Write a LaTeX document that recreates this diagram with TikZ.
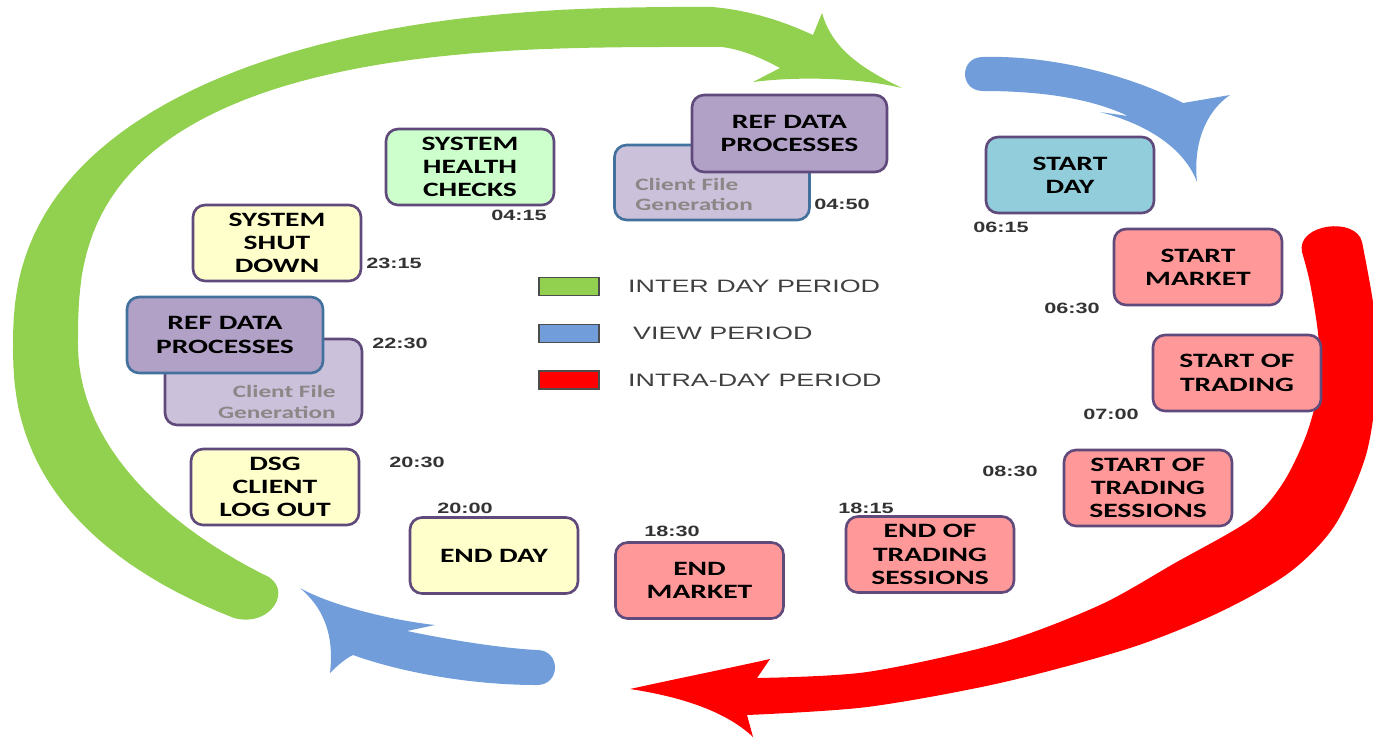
\documentclass[tikz,border=0pt]{standalone}
\usepackage{fontspec}
\usepackage{tikz}
\usetikzlibrary{positioning}

\newfontfamily\boxfont{Carlito}[FakeStretch=1.45]
\newfontfamily\clockfont{Liberation Sans}[FakeStretch=1.45]
\newfontfamily\legendfont{Liberation Sans}[FakeStretch=1.5]

\definecolor{interday}{RGB}{146,208,80}
\definecolor{viewper}{RGB}{113,158,218}
\definecolor{intraday}{RGB}{255,0,0}
\definecolor{edgepurple}{RGB}{96,74,123}
\definecolor{edgeblue}{RGB}{65,113,156}
\definecolor{healthfill}{RGB}{204,255,204}
\definecolor{reffill}{RGB}{178,161,199}
\definecolor{cffill}{RGB}{204,193,218}
\definecolor{dayfill}{RGB}{146,205,220}
\definecolor{mktfill}{RGB}{255,153,153}
\definecolor{endfill}{RGB}{255,255,204}
\definecolor{cftext}{RGB}{140,135,135}

\begin{document}
\begin{tikzpicture}[x=0.02cm, y=-0.02cm]
	\tikzstyle{stage} = [draw=edgepurple, line width=1.5pt, rounded corners=0.24cm, minimum width=3.36cm, minimum height=1.52cm, inner sep=0pt, align=center, text=black, font=\boxfont\bfseries\fontsize{11.6}{13.3}\selectfont]
	\tikzstyle{clock} = [inner sep=0pt, text=black!80, font=\clockfont\bfseries\fontsize{8.5}{10}\selectfont]
	\tikzstyle{cflabel} = [inner sep=0pt, text=cftext, font=\boxfont\bfseries\fontsize{9.9}{11.9}\selectfont]
	\tikzstyle{swatch} = [draw=black!70, line width=1pt, minimum width=1.2cm, minimum height=0.36cm, inner sep=0pt]
	\tikzstyle{legendtext} = [inner sep=0pt, text=black!75, font=\legendfont\fontsize{10.2}{12}\selectfont]

	\useasboundingbox (0,0) rectangle (1373,738);

	% period arrows
	\fill[interday] (265,575) .. controls (294,588) and (272,628) .. (234,618)
		-- plot[domain=129:271, samples=80] ({690+677*(cos(\x)<0?-1:1)*abs(cos(\x))^0.851}, {345+338*(sin(\x)<0?-1:1)*abs(sin(\x))^0.851})
		.. controls (750,10) and (785,22) .. (813,35)
		-- (822,13) .. controls (832,48) and (860,68) .. (902,88)
		.. controls (860,78) and (800,76) .. (753,82) -- (780,68)
		.. controls (765,60) and (745,50) .. (722,47)
		-- plot[domain=271:180.2, samples=50] ({690+612*(cos(\x)<0?-1:1)*abs(cos(\x))^0.725}, {345+298*(sin(\x)<0?-1:1)*abs(sin(\x))^0.725})
		-- plot[domain=180:134, samples=25] ({690+612*cos(\x)}, {345+320*sin(\x)}) -- cycle;

	\fill[viewper] (983,57) .. controls (1050,55) and (1130,75) .. (1183,103) -- (1230,95)
		.. controls (1205,112) and (1193,145) .. (1197,182)
		.. controls (1185,150) and (1150,125) .. (1100,112) -- (1128,116)
		.. controls (1090,98) and (1040,91) .. (983,91)
		.. controls (959,91) and (959,57) .. (983,57) -- cycle;

	\fill[intraday] (1302,252) .. controls (1296,224) and (1356,216) .. (1362,242)
		-- plot[smooth] coordinates {(1362,242) (1374,310) (1377,380) (1366,455) (1335,525) (1290,572) (1220,612) (1130,648) (1000,683) (867,707) (747,715)}
		-- (753,737) .. controls (730,715) and (690,698) .. (630,689)
		.. controls (680,678) and (730,668) .. (770,659) -- (757,678)
		-- plot[smooth] coordinates {(757,678) (867,672) (1000,643) (1100,605) (1175,563) (1250,520) (1283,483) (1307,433) (1320,380) (1318,333) (1310,283) (1302,252)} -- cycle;

	\fill[viewper] (537,650) .. controls (500,648) and (450,640) .. (407,631) -- (435,625)
		.. controls (390,620) and (330,605) .. (300,588)
		.. controls (320,605) and (335,630) .. (330,673)
		.. controls (338,665) and (345,659) .. (353,655)
		.. controls (400,672) and (470,685) .. (537,685)
		.. controls (561,685) and (561,650) .. (537,650) -- cycle;

	% stages
	\path
		node[stage, fill=healthfill] (1) at (470,167) {SYSTEM\\HEALTH\\CHECKS}
		node[stage, fill=cffill, draw=edgeblue, minimum width=3.9cm, minimum height=1.5cm] (2) at (712,182.5) {}
		node[stage, fill=reffill, minimum width=3.9cm, minimum height=1.54cm] (3) at (789.5,133.5) {REF DATA\\PROCESSES}
		node[stage, fill=dayfill] (4) at (1070,175) {START\\DAY}
		node[stage, fill=mktfill] (5) at (1198,267) {START\\MARKET}
		node[stage, fill=mktfill] (6) at (1237,373) {START OF\\TRADING}
		node[stage, fill=mktfill] (7) at (1148,488) {START OF\\TRADING\\SESSIONS}
		node[stage, fill=mktfill] (8) at (930,554.5) {END OF\\TRADING\\SESSIONS}
		node[stage, fill=mktfill] (9) at (699.5,580.5) {END\\MARKET}
		node[stage, fill=endfill] (10) at (494,555.5) {END DAY}
		node[stage, fill=endfill] (11) at (275,487) {DSG\\CLIENT\\LOG OUT}
		node[stage, fill=cffill, minimum width=3.94cm, minimum height=1.72cm] (12) at (263.5,382) {}
		node[stage, fill=reffill, draw=edgeblue, minimum width=3.92cm, minimum height=1.52cm] (13) at (225,335) {REF DATA\\PROCESSES}
		node[stage, fill=endfill] (14) at (277,243) {SYSTEM\\SHUT\\DOWN}
	;

	\node[cflabel, anchor=west, align=left] (2t) at (635,194.5) {Client File\\Generation};
	\node[cflabel, anchor=east, align=right] (12t) at (336,401.5) {Client File\\Generation};

	% times
	\path
		node[clock] (t1) at (519,215) {04:15}
		node[clock] (t2) at (842,204) {04:50}
		node[clock] (t4) at (1001,227) {06:15}
		node[clock] (t5) at (1072,308) {06:30}
		node[clock] (t6) at (1111,414) {07:00}
		node[clock] (t7) at (1010,471) {08:30}
		node[clock] (t8) at (866,508) {18:15}
		node[clock] (t9) at (672,531) {18:30}
		node[clock] (t10) at (465,508) {20:00}
		node[clock] (t11) at (417,462) {20:30}
		node[clock] (t13) at (400,343) {22:30}
		node[clock] (t14) at (394,263) {23:15}
	;

	% legend
	\node[swatch, fill=interday] (g) at (569,286.5) {};
	\node[swatch, fill=viewper] (b) at (569,333.5) {};
	\node[swatch, fill=intraday] (r) at (569,380) {};
	\node[legendtext, right=0.56cm of g] (gt) {INTER DAY PERIOD};
	\node[legendtext, right=0.66cm of b] (bt) {VIEW PERIOD};
	\node[legendtext, right=0.56cm of r] (rt) {INTRA-DAY PERIOD};
\end{tikzpicture}
\end{document}
